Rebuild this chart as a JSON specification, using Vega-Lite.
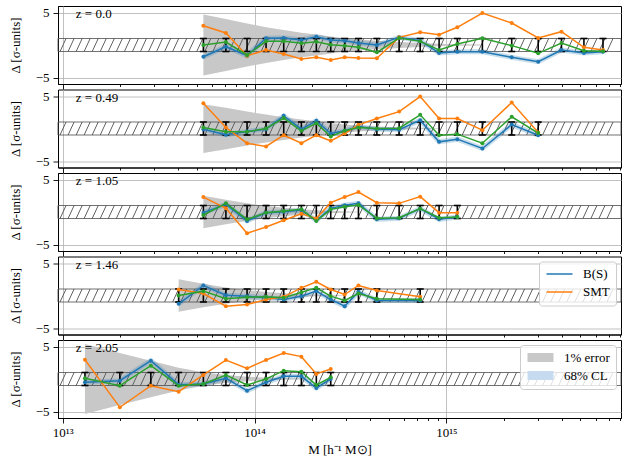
{
"$schema":"https://vega.github.io/schema/vega-lite/v6.json",
"background":"white",
"padding":{"left":8,"top":5,"right":9,"bottom":2},
"bounds":"flush",
"spacing":5.5,
"params":[{"name":"hatch","value":{"gradient":"linear","x1":0,"y1":0,"x2":1,"y2":0.0107,"stops":[
{"offset":0,"color":"#5a5a5a"},{"offset":0.0017,"color":"rgba(90,90,90,0)"},{"offset":0.0126,"color":"rgba(90,90,90,0)"},
{"offset":0.0143,"color":"#5a5a5a"},{"offset":0.016,"color":"rgba(90,90,90,0)"},{"offset":0.0269,"color":"rgba(90,90,90,0)"},
{"offset":0.0286,"color":"#5a5a5a"},{"offset":0.0303,"color":"rgba(90,90,90,0)"},{"offset":0.0412,"color":"rgba(90,90,90,0)"},
{"offset":0.0429,"color":"#5a5a5a"},{"offset":0.0446,"color":"rgba(90,90,90,0)"},{"offset":0.0554,"color":"rgba(90,90,90,0)"},
{"offset":0.0571,"color":"#5a5a5a"},{"offset":0.0588,"color":"rgba(90,90,90,0)"},{"offset":0.0697,"color":"rgba(90,90,90,0)"},
{"offset":0.0714,"color":"#5a5a5a"},{"offset":0.0731,"color":"rgba(90,90,90,0)"},{"offset":0.084,"color":"rgba(90,90,90,0)"},
{"offset":0.0857,"color":"#5a5a5a"},{"offset":0.0874,"color":"rgba(90,90,90,0)"},{"offset":0.0983,"color":"rgba(90,90,90,0)"},
{"offset":0.1,"color":"#5a5a5a"},{"offset":0.1017,"color":"rgba(90,90,90,0)"},{"offset":0.1126,"color":"rgba(90,90,90,0)"},
{"offset":0.1143,"color":"#5a5a5a"},{"offset":0.116,"color":"rgba(90,90,90,0)"},{"offset":0.1269,"color":"rgba(90,90,90,0)"},
{"offset":0.1286,"color":"#5a5a5a"},{"offset":0.1303,"color":"rgba(90,90,90,0)"},{"offset":0.1412,"color":"rgba(90,90,90,0)"},
{"offset":0.1429,"color":"#5a5a5a"},{"offset":0.1446,"color":"rgba(90,90,90,0)"},{"offset":0.1554,"color":"rgba(90,90,90,0)"},
{"offset":0.1571,"color":"#5a5a5a"},{"offset":0.1588,"color":"rgba(90,90,90,0)"},{"offset":0.1697,"color":"rgba(90,90,90,0)"},
{"offset":0.1714,"color":"#5a5a5a"},{"offset":0.1731,"color":"rgba(90,90,90,0)"},{"offset":0.184,"color":"rgba(90,90,90,0)"},
{"offset":0.1857,"color":"#5a5a5a"},{"offset":0.1874,"color":"rgba(90,90,90,0)"},{"offset":0.1983,"color":"rgba(90,90,90,0)"},
{"offset":0.2,"color":"#5a5a5a"},{"offset":0.2017,"color":"rgba(90,90,90,0)"},{"offset":0.2126,"color":"rgba(90,90,90,0)"},
{"offset":0.2143,"color":"#5a5a5a"},{"offset":0.216,"color":"rgba(90,90,90,0)"},{"offset":0.2269,"color":"rgba(90,90,90,0)"},
{"offset":0.2286,"color":"#5a5a5a"},{"offset":0.2303,"color":"rgba(90,90,90,0)"},{"offset":0.2412,"color":"rgba(90,90,90,0)"},
{"offset":0.2429,"color":"#5a5a5a"},{"offset":0.2446,"color":"rgba(90,90,90,0)"},{"offset":0.2554,"color":"rgba(90,90,90,0)"},
{"offset":0.2571,"color":"#5a5a5a"},{"offset":0.2588,"color":"rgba(90,90,90,0)"},{"offset":0.2697,"color":"rgba(90,90,90,0)"},
{"offset":0.2714,"color":"#5a5a5a"},{"offset":0.2731,"color":"rgba(90,90,90,0)"},{"offset":0.284,"color":"rgba(90,90,90,0)"},
{"offset":0.2857,"color":"#5a5a5a"},{"offset":0.2874,"color":"rgba(90,90,90,0)"},{"offset":0.2983,"color":"rgba(90,90,90,0)"},
{"offset":0.3,"color":"#5a5a5a"},{"offset":0.3017,"color":"rgba(90,90,90,0)"},{"offset":0.3126,"color":"rgba(90,90,90,0)"},
{"offset":0.3143,"color":"#5a5a5a"},{"offset":0.316,"color":"rgba(90,90,90,0)"},{"offset":0.3269,"color":"rgba(90,90,90,0)"},
{"offset":0.3286,"color":"#5a5a5a"},{"offset":0.3303,"color":"rgba(90,90,90,0)"},{"offset":0.3412,"color":"rgba(90,90,90,0)"},
{"offset":0.3429,"color":"#5a5a5a"},{"offset":0.3446,"color":"rgba(90,90,90,0)"},{"offset":0.3554,"color":"rgba(90,90,90,0)"},
{"offset":0.3571,"color":"#5a5a5a"},{"offset":0.3588,"color":"rgba(90,90,90,0)"},{"offset":0.3697,"color":"rgba(90,90,90,0)"},
{"offset":0.3714,"color":"#5a5a5a"},{"offset":0.3731,"color":"rgba(90,90,90,0)"},{"offset":0.384,"color":"rgba(90,90,90,0)"},
{"offset":0.3857,"color":"#5a5a5a"},{"offset":0.3874,"color":"rgba(90,90,90,0)"},{"offset":0.3983,"color":"rgba(90,90,90,0)"},
{"offset":0.4,"color":"#5a5a5a"},{"offset":0.4017,"color":"rgba(90,90,90,0)"},{"offset":0.4126,"color":"rgba(90,90,90,0)"},
{"offset":0.4143,"color":"#5a5a5a"},{"offset":0.416,"color":"rgba(90,90,90,0)"},{"offset":0.4269,"color":"rgba(90,90,90,0)"},
{"offset":0.4286,"color":"#5a5a5a"},{"offset":0.4303,"color":"rgba(90,90,90,0)"},{"offset":0.4412,"color":"rgba(90,90,90,0)"},
{"offset":0.4429,"color":"#5a5a5a"},{"offset":0.4446,"color":"rgba(90,90,90,0)"},{"offset":0.4554,"color":"rgba(90,90,90,0)"},
{"offset":0.4571,"color":"#5a5a5a"},{"offset":0.4588,"color":"rgba(90,90,90,0)"},{"offset":0.4697,"color":"rgba(90,90,90,0)"},
{"offset":0.4714,"color":"#5a5a5a"},{"offset":0.4731,"color":"rgba(90,90,90,0)"},{"offset":0.484,"color":"rgba(90,90,90,0)"},
{"offset":0.4857,"color":"#5a5a5a"},{"offset":0.4874,"color":"rgba(90,90,90,0)"},{"offset":0.4983,"color":"rgba(90,90,90,0)"},
{"offset":0.5,"color":"#5a5a5a"},{"offset":0.5017,"color":"rgba(90,90,90,0)"},{"offset":0.5126,"color":"rgba(90,90,90,0)"},
{"offset":0.5143,"color":"#5a5a5a"},{"offset":0.516,"color":"rgba(90,90,90,0)"},{"offset":0.5269,"color":"rgba(90,90,90,0)"},
{"offset":0.5286,"color":"#5a5a5a"},{"offset":0.5303,"color":"rgba(90,90,90,0)"},{"offset":0.5412,"color":"rgba(90,90,90,0)"},
{"offset":0.5429,"color":"#5a5a5a"},{"offset":0.5446,"color":"rgba(90,90,90,0)"},{"offset":0.5554,"color":"rgba(90,90,90,0)"},
{"offset":0.5571,"color":"#5a5a5a"},{"offset":0.5588,"color":"rgba(90,90,90,0)"},{"offset":0.5697,"color":"rgba(90,90,90,0)"},
{"offset":0.5714,"color":"#5a5a5a"},{"offset":0.5731,"color":"rgba(90,90,90,0)"},{"offset":0.584,"color":"rgba(90,90,90,0)"},
{"offset":0.5857,"color":"#5a5a5a"},{"offset":0.5874,"color":"rgba(90,90,90,0)"},{"offset":0.5983,"color":"rgba(90,90,90,0)"},
{"offset":0.6,"color":"#5a5a5a"},{"offset":0.6017,"color":"rgba(90,90,90,0)"},{"offset":0.6126,"color":"rgba(90,90,90,0)"},
{"offset":0.6143,"color":"#5a5a5a"},{"offset":0.616,"color":"rgba(90,90,90,0)"},{"offset":0.6269,"color":"rgba(90,90,90,0)"},
{"offset":0.6286,"color":"#5a5a5a"},{"offset":0.6303,"color":"rgba(90,90,90,0)"},{"offset":0.6412,"color":"rgba(90,90,90,0)"},
{"offset":0.6429,"color":"#5a5a5a"},{"offset":0.6446,"color":"rgba(90,90,90,0)"},{"offset":0.6554,"color":"rgba(90,90,90,0)"},
{"offset":0.6571,"color":"#5a5a5a"},{"offset":0.6588,"color":"rgba(90,90,90,0)"},{"offset":0.6697,"color":"rgba(90,90,90,0)"},
{"offset":0.6714,"color":"#5a5a5a"},{"offset":0.6731,"color":"rgba(90,90,90,0)"},{"offset":0.684,"color":"rgba(90,90,90,0)"},
{"offset":0.6857,"color":"#5a5a5a"},{"offset":0.6874,"color":"rgba(90,90,90,0)"},{"offset":0.6983,"color":"rgba(90,90,90,0)"},
{"offset":0.7,"color":"#5a5a5a"},{"offset":0.7017,"color":"rgba(90,90,90,0)"},{"offset":0.7126,"color":"rgba(90,90,90,0)"},
{"offset":0.7143,"color":"#5a5a5a"},{"offset":0.716,"color":"rgba(90,90,90,0)"},{"offset":0.7269,"color":"rgba(90,90,90,0)"},
{"offset":0.7286,"color":"#5a5a5a"},{"offset":0.7303,"color":"rgba(90,90,90,0)"},{"offset":0.7412,"color":"rgba(90,90,90,0)"},
{"offset":0.7429,"color":"#5a5a5a"},{"offset":0.7446,"color":"rgba(90,90,90,0)"},{"offset":0.7554,"color":"rgba(90,90,90,0)"},
{"offset":0.7571,"color":"#5a5a5a"},{"offset":0.7588,"color":"rgba(90,90,90,0)"},{"offset":0.7697,"color":"rgba(90,90,90,0)"},
{"offset":0.7714,"color":"#5a5a5a"},{"offset":0.7731,"color":"rgba(90,90,90,0)"},{"offset":0.784,"color":"rgba(90,90,90,0)"},
{"offset":0.7857,"color":"#5a5a5a"},{"offset":0.7874,"color":"rgba(90,90,90,0)"},{"offset":0.7983,"color":"rgba(90,90,90,0)"},
{"offset":0.8,"color":"#5a5a5a"},{"offset":0.8017,"color":"rgba(90,90,90,0)"},{"offset":0.8126,"color":"rgba(90,90,90,0)"},
{"offset":0.8143,"color":"#5a5a5a"},{"offset":0.816,"color":"rgba(90,90,90,0)"},{"offset":0.8269,"color":"rgba(90,90,90,0)"},
{"offset":0.8286,"color":"#5a5a5a"},{"offset":0.8303,"color":"rgba(90,90,90,0)"},{"offset":0.8412,"color":"rgba(90,90,90,0)"},
{"offset":0.8429,"color":"#5a5a5a"},{"offset":0.8446,"color":"rgba(90,90,90,0)"},{"offset":0.8554,"color":"rgba(90,90,90,0)"},
{"offset":0.8571,"color":"#5a5a5a"},{"offset":0.8588,"color":"rgba(90,90,90,0)"},{"offset":0.8697,"color":"rgba(90,90,90,0)"},
{"offset":0.8714,"color":"#5a5a5a"},{"offset":0.8731,"color":"rgba(90,90,90,0)"},{"offset":0.884,"color":"rgba(90,90,90,0)"},
{"offset":0.8857,"color":"#5a5a5a"},{"offset":0.8874,"color":"rgba(90,90,90,0)"},{"offset":0.8983,"color":"rgba(90,90,90,0)"},
{"offset":0.9,"color":"#5a5a5a"},{"offset":0.9017,"color":"rgba(90,90,90,0)"},{"offset":0.9126,"color":"rgba(90,90,90,0)"},
{"offset":0.9143,"color":"#5a5a5a"},{"offset":0.916,"color":"rgba(90,90,90,0)"},{"offset":0.9269,"color":"rgba(90,90,90,0)"},
{"offset":0.9286,"color":"#5a5a5a"},{"offset":0.9303,"color":"rgba(90,90,90,0)"},{"offset":0.9412,"color":"rgba(90,90,90,0)"},
{"offset":0.9429,"color":"#5a5a5a"},{"offset":0.9446,"color":"rgba(90,90,90,0)"},{"offset":0.9554,"color":"rgba(90,90,90,0)"},
{"offset":0.9571,"color":"#5a5a5a"},{"offset":0.9588,"color":"rgba(90,90,90,0)"},{"offset":0.9697,"color":"rgba(90,90,90,0)"},
{"offset":0.9714,"color":"#5a5a5a"},{"offset":0.9731,"color":"rgba(90,90,90,0)"},{"offset":0.984,"color":"rgba(90,90,90,0)"},
{"offset":0.9857,"color":"#5a5a5a"},{"offset":0.9874,"color":"rgba(90,90,90,0)"},{"offset":1,"color":"rgba(90,90,90,0)"}
]}}],
"config":{
 "font":"Liberation Serif",
 "view":{"stroke":"black","strokeWidth":1},
 "axis":{"tickColor":"black","domainColor":"black","domainWidth":1,"tickWidth":0.9,"gridColor":"#b0b0b0","gridWidth":0.8,"labelFontSize":13,"titleFontSize":13,"titleFontWeight":"normal","labelColor":"black","titleColor":"black","labelFont":"Liberation Serif","titleFont":"Liberation Serif"},
 "legend":{"labelFont":"Liberation Serif","labelColor":"black","labelFontSize":13}
},
"datasets":{
"pts":[
{"z":"0.0","M":5.41e13,"BS":-1.8,"SMT":2.97,"G":0},
{"z":"0.0","M":7.09e13,"BS":-0.26,"SMT":1.85,"G":0.46},
{"z":"0.0","M":9.14e13,"BS":-1.64,"SMT":-1.64,"G":-1.54},
{"z":"0.0","M":1.148e14,"BS":1.03,"SMT":-0.77,"G":0.56},
{"z":"0.0","M":1.419e14,"BS":1.08,"SMT":-1.38,"G":0.56},
{"z":"0.0","M":1.754e14,"BS":0.77,"SMT":-2.15,"G":0.26},
{"z":"0.0","M":2.099e14,"BS":1.28,"SMT":-1.9,"G":0.5},
{"z":"0.0","M":2.495e14,"BS":0.77,"SMT":-2.3,"G":0.05},
{"z":"0.0","M":2.95e14,"BS":0.67,"SMT":-1.9,"G":-0.1},
{"z":"0.0","M":3.48e14,"BS":0.3,"SMT":-2.0,"G":-0.36},
{"z":"0.0","M":4.34e14,"BS":0,"SMT":-2.05,"G":-1.13},
{"z":"0.0","M":5.67e14,"BS":1.18,"SMT":1.18,"G":1.08},
{"z":"0.0","M":7.3e14,"BS":0.67,"SMT":1.95,"G":0.56},
{"z":"0.0","M":9.16e14,"BS":-1.23,"SMT":1.59,"G":-0.77},
{"z":"0.0","M":1.14e15,"BS":-1.03,"SMT":2.72,"G":0.15},
{"z":"0.0","M":1.54e15,"BS":-1.03,"SMT":4.92,"G":1.03},
{"z":"0.0","M":2.19e15,"BS":-1.9,"SMT":3.38,"G":-0.1},
{"z":"0.0","M":3.01e15,"BS":-2.56,"SMT":1.08,"G":-1.28},
{"z":"0.0","M":3.98e15,"BS":-0.77,"SMT":2.05,"G":0.3},
{"z":"0.0","M":5.21e15,"BS":-1.23,"SMT":-0.36,"G":-0.87},
{"z":"0.0","M":6.55e15,"BS":-1.03,"SMT":-0.77,"G":-0.97},
{"z":"0.49","M":5.41e13,"BS":-0.1,"SMT":3.9,"G":0.15},
{"z":"0.49","M":7.09e13,"BS":-0.97,"SMT":0.15,"G":-0.5},
{"z":"0.49","M":9.14e13,"BS":-0.46,"SMT":-2.26,"G":-0.5},
{"z":"0.49","M":1.148e14,"BS":-0.1,"SMT":-2.77,"G":0},
{"z":"0.49","M":1.419e14,"BS":1.95,"SMT":-1.03,"G":1.6},
{"z":"0.49","M":1.754e14,"BS":-0.1,"SMT":-2.26,"G":-0.36},
{"z":"0.49","M":2.099e14,"BS":1.18,"SMT":-1.03,"G":0.82},
{"z":"0.49","M":2.495e14,"BS":-0.77,"SMT":-1.9,"G":-1.23},
{"z":"0.49","M":2.95e14,"BS":-0.36,"SMT":-0.77,"G":-0.36},
{"z":"0.49","M":3.48e14,"BS":0.3,"SMT":0.56,"G":0.15},
{"z":"0.49","M":4.34e14,"BS":-0.1,"SMT":1.54,"G":0},
{"z":"0.49","M":5.67e14,"BS":-0.2,"SMT":2.6,"G":0.05},
{"z":"0.49","M":7.3e14,"BS":1.28,"SMT":4.92,"G":2.1},
{"z":"0.49","M":9.16e14,"BS":-2.05,"SMT":1.54,"G":-1.03},
{"z":"0.49","M":1.14e15,"BS":-1.64,"SMT":1.54,"G":-0.87},
{"z":"0.49","M":1.54e15,"BS":-3.08,"SMT":-0.26,"G":-2.26},
{"z":"0.49","M":2.19e15,"BS":0.6,"SMT":4.0,"G":1.8},
{"z":"0.49","M":3.01e15,"BS":-1.03,"SMT":-0.62,"G":-0.7},
{"z":"1.05","M":5.41e13,"BS":-0.1,"SMT":2.3,"G":-0.46},
{"z":"1.05","M":7.09e13,"BS":1.18,"SMT":0.56,"G":1.33},
{"z":"1.05","M":9.14e13,"BS":-1.38,"SMT":-3.28,"G":-1.13},
{"z":"1.05","M":1.148e14,"BS":-0.1,"SMT":-2.3,"G":-0.1},
{"z":"1.05","M":1.419e14,"BS":0.05,"SMT":-1.28,"G":0.15},
{"z":"1.05","M":1.754e14,"BS":0.3,"SMT":-0.26,"G":0.41},
{"z":"1.05","M":2.099e14,"BS":-1.28,"SMT":-1.0,"G":-1.38},
{"z":"1.05","M":2.495e14,"BS":0.56,"SMT":1.44,"G":0.41},
{"z":"1.05","M":2.95e14,"BS":1.03,"SMT":2.3,"G":0.82},
{"z":"1.05","M":3.48e14,"BS":1.33,"SMT":3.08,"G":1.08},
{"z":"1.05","M":4.34e14,"BS":-1.13,"SMT":1.44,"G":-0.97},
{"z":"1.05","M":5.67e14,"BS":-0.97,"SMT":1.33,"G":-0.87},
{"z":"1.05","M":7.3e14,"BS":0.51,"SMT":2.36,"G":0.51},
{"z":"1.05","M":9.16e14,"BS":-1.13,"SMT":-0.1,"G":-0.87},
{"z":"1.05","M":1.14e15,"BS":-0.77,"SMT":-0.1,"G":-0.77},
{"z":"1.46","M":4.02e13,"BS":-1.28,"SMT":0.92,"G":0},
{"z":"1.46","M":5.41e13,"BS":1.54,"SMT":0.3,"G":0.67},
{"z":"1.46","M":7.09e13,"BS":0.05,"SMT":-1.64,"G":-0.51},
{"z":"1.46","M":9.14e13,"BS":-0.1,"SMT":-1.38,"G":-0.26},
{"z":"1.46","M":1.148e14,"BS":-0.36,"SMT":-0.62,"G":-0.2},
{"z":"1.46","M":1.419e14,"BS":-0.62,"SMT":-0.2,"G":-0.36},
{"z":"1.46","M":1.754e14,"BS":-0.1,"SMT":1.18,"G":0.51},
{"z":"1.46","M":2.099e14,"BS":0.67,"SMT":2.1,"G":1.18},
{"z":"1.46","M":2.495e14,"BS":-0.62,"SMT":0.92,"G":-0.1},
{"z":"1.46","M":2.95e14,"BS":-1.64,"SMT":0.15,"G":-0.77},
{"z":"1.46","M":3.48e14,"BS":0.56,"SMT":1.54,"G":0.3},
{"z":"1.46","M":4.34e14,"BS":-0.77,"SMT":0.77,"G":-0.51},
{"z":"1.46","M":7.3e14,"BS":-0.77,"SMT":-0.2,"G":-0.62},
{"z":"2.05","M":1.306e13,"BS":-0.51,"SMT":2.97,"G":0.1},
{"z":"2.05","M":1.985e13,"BS":-0.26,"SMT":-4.36,"G":-1.03},
{"z":"2.05","M":2.88e13,"BS":2.82,"SMT":-1.03,"G":2.05},
{"z":"2.05","M":4.02e13,"BS":-0.87,"SMT":-1.95,"G":-1.03},
{"z":"2.05","M":5.41e13,"BS":-0.77,"SMT":0.62,"G":-0.77},
{"z":"2.05","M":7.09e13,"BS":0.1,"SMT":2.92,"G":0.62},
{"z":"2.05","M":9.14e13,"BS":-1.8,"SMT":1.64,"G":-0.92},
{"z":"2.05","M":1.148e14,"BS":-0.51,"SMT":2.92,"G":0},
{"z":"2.05","M":1.419e14,"BS":0.41,"SMT":4.0,"G":1.28},
{"z":"2.05","M":1.754e14,"BS":0.41,"SMT":3.44,"G":1.13},
{"z":"2.05","M":2.099e14,"BS":-1.38,"SMT":0.77,"G":-0.92},
{"z":"2.05","M":2.495e14,"BS":0,"SMT":1.54,"G":0.26}
],
"fun":[
{"z":"0.0","M":5.41e13,"lo":-4.7,"hi":4.7},
{"z":"0.0","M":7.09e13,"lo":-4.0,"hi":4.0},
{"z":"0.0","M":9.14e13,"lo":-3.3,"hi":3.3},
{"z":"0.0","M":1.148e14,"lo":-2.75,"hi":2.75},
{"z":"0.0","M":1.419e14,"lo":-2.3,"hi":2.3},
{"z":"0.0","M":1.754e14,"lo":-1.9,"hi":1.9},
{"z":"0.0","M":2.099e14,"lo":-1.6,"hi":1.6},
{"z":"0.0","M":2.495e14,"lo":-1.3,"hi":1.3},
{"z":"0.0","M":2.95e14,"lo":-1.05,"hi":1.05},
{"z":"0.0","M":3.48e14,"lo":-0.85,"hi":0.85},
{"z":"0.0","M":4.34e14,"lo":-0.65,"hi":0.65},
{"z":"0.0","M":5.67e14,"lo":-0.45,"hi":0.45},
{"z":"0.0","M":7.3e14,"lo":-0.3,"hi":0.3},
{"z":"0.0","M":9.16e14,"lo":-0.2,"hi":0.2},
{"z":"0.0","M":1.14e15,"lo":-0.12,"hi":0.12},
{"z":"0.0","M":1.54e15,"lo":-0.06,"hi":0.06},
{"z":"0.49","M":5.41e13,"lo":-3.75,"hi":3.75},
{"z":"0.49","M":7.09e13,"lo":-3.2,"hi":3.2},
{"z":"0.49","M":9.14e13,"lo":-2.6,"hi":2.6},
{"z":"0.49","M":1.148e14,"lo":-2.15,"hi":2.15},
{"z":"0.49","M":1.419e14,"lo":-1.75,"hi":1.75},
{"z":"0.49","M":1.754e14,"lo":-1.4,"hi":1.4},
{"z":"0.49","M":2.099e14,"lo":-1.1,"hi":1.1},
{"z":"0.49","M":2.495e14,"lo":-0.85,"hi":0.85},
{"z":"0.49","M":2.95e14,"lo":-0.62,"hi":0.62},
{"z":"0.49","M":3.48e14,"lo":-0.45,"hi":0.45},
{"z":"0.49","M":4.34e14,"lo":-0.3,"hi":0.3},
{"z":"0.49","M":5.67e14,"lo":-0.18,"hi":0.18},
{"z":"0.49","M":7.3e14,"lo":-0.1,"hi":0.1},
{"z":"0.49","M":9.16e14,"lo":-0.05,"hi":0.05},
{"z":"1.05","M":5.41e13,"lo":-2.5,"hi":2.5},
{"z":"1.05","M":7.09e13,"lo":-1.9,"hi":1.9},
{"z":"1.05","M":9.14e13,"lo":-1.35,"hi":1.35},
{"z":"1.05","M":1.148e14,"lo":-0.95,"hi":0.95},
{"z":"1.05","M":1.419e14,"lo":-0.65,"hi":0.65},
{"z":"1.05","M":1.754e14,"lo":-0.42,"hi":0.42},
{"z":"1.05","M":2.099e14,"lo":-0.27,"hi":0.27},
{"z":"1.05","M":2.495e14,"lo":-0.16,"hi":0.16},
{"z":"1.05","M":2.95e14,"lo":-0.1,"hi":0.1},
{"z":"1.05","M":3.48e14,"lo":-0.05,"hi":0.05},
{"z":"1.46","M":4.02e13,"lo":-2.5,"hi":2.5},
{"z":"1.46","M":5.41e13,"lo":-1.8,"hi":1.8},
{"z":"1.46","M":7.09e13,"lo":-1.25,"hi":1.25},
{"z":"1.46","M":9.14e13,"lo":-0.85,"hi":0.85},
{"z":"1.46","M":1.148e14,"lo":-0.55,"hi":0.55},
{"z":"1.46","M":1.419e14,"lo":-0.35,"hi":0.35},
{"z":"1.46","M":1.754e14,"lo":-0.22,"hi":0.22},
{"z":"1.46","M":2.099e14,"lo":-0.13,"hi":0.13},
{"z":"1.46","M":2.495e14,"lo":-0.08,"hi":0.08},
{"z":"1.46","M":2.95e14,"lo":-0.04,"hi":0.04},
{"z":"2.05","M":1.306e13,"lo":-5.4,"hi":5.4},
{"z":"2.05","M":1.985e13,"lo":-4.0,"hi":4.0},
{"z":"2.05","M":2.88e13,"lo":-2.8,"hi":2.8},
{"z":"2.05","M":4.02e13,"lo":-1.75,"hi":1.75},
{"z":"2.05","M":5.41e13,"lo":-1.05,"hi":1.05},
{"z":"2.05","M":7.09e13,"lo":-0.62,"hi":0.62},
{"z":"2.05","M":9.14e13,"lo":-0.36,"hi":0.36},
{"z":"2.05","M":1.148e14,"lo":-0.21,"hi":0.21},
{"z":"2.05","M":1.419e14,"lo":-0.12,"hi":0.12},
{"z":"2.05","M":1.754e14,"lo":-0.07,"hi":0.07},
{"z":"2.05","M":2.099e14,"lo":-0.04,"hi":0.04}
]
},
"resolve":{"scale":{"x":"independent","y":"independent","color":"independent","fill":"independent"},"legend":{"color":"independent","fill":"independent"}},
"vconcat":[
{"width":563,"height":78,"layer":[
 {"data":{"name":"fun"},"transform":[{"filter":"datum.z == '0.0'"}],"mark":{"type":"area","opacity":1},
  "encoding":{"x":{"field":"M","type":"quantitative","scale":{"type":"log","domain":[9.45e12,8.13e15],"nice":false},
   "axis":{"values":[1e13,2e13,3e13,4e13,5e13,6e13,7e13,8e13,9e13,1e14,2e14,3e14,4e14,5e14,6e14,7e14,8e14,9e14,1e15,2e15,3e15,4e15,5e15,6e15,7e15,8e15],"labels":false,"title":null,"grid":true,"gridOpacity":{"condition":{"test":"datum.value == 1e13 || datum.value == 1e14 || datum.value == 1e15","value":1},"value":0},"tickSize":{"condition":{"test":"datum.value == 1e13 || datum.value == 1e14 || datum.value == 1e15","value":5},"value":2.5}}},
   "y":{"field":"lo","type":"quantitative","scale":{"domain":[-6,6],"nice":false},"axis":{"values":[-5,0,5],"title":"Δ [σ-units]","grid":true,"tickSize":5,"labelPadding":4,"titlePadding":13}},
   "y2":{"field":"hi"},
   "fill":{"datum":"1% error","type":"nominal","scale":{"domain":["1% error","68% CL"],"range":["#c8c8c8","#c6dbef"]},"legend":null}}},
 {"data":{"values":[{}]},"mark":{"type":"rect","fill":{"expr":"hatch"},"stroke":"#4d4d4d","strokeWidth":0.8},"encoding":{"x":{"datum":9.45e12},"x2":{"datum":8.13e15},"y":{"datum":-1},"y2":{"datum":1}}},
 {"data":{"name":"pts"},"transform":[{"filter":"datum.z == '0.0'"}],"mark":{"type":"line","color":"#1f77b4","opacity":0.25,"strokeWidth":5},"encoding":{"x":{"field":"M","type":"quantitative"},"y":{"field":"BS","type":"quantitative"}}},
 {"data":{"name":"pts"},"transform":[{"filter":"datum.z == '0.0'"}],"mark":{"type":"rule","color":"black","strokeWidth":1.6},"encoding":{"x":{"field":"M","type":"quantitative"},"y":{"datum":-1},"y2":{"datum":1}}},
 {"data":{"name":"pts"},"transform":[{"filter":"datum.z == '0.0'"}],"mark":{"type":"tick","orient":"horizontal","color":"black","size":7,"thickness":1.6,"opacity":1},"encoding":{"x":{"field":"M","type":"quantitative"},"y":{"datum":-1}}},
 {"data":{"name":"pts"},"transform":[{"filter":"datum.z == '0.0'"}],"mark":{"type":"tick","orient":"horizontal","color":"black","size":7,"thickness":1.6,"opacity":1},"encoding":{"x":{"field":"M","type":"quantitative"},"y":{"datum":1}}},
 {"data":{"name":"pts"},"transform":[{"filter":"datum.z == '0.0'"},{"fold":["BS","SMT","G"],"as":["model","v"]}],"mark":{"type":"line","strokeWidth":1.5,"point":{"filled":true,"size":16,"opacity":1}},
  "encoding":{"x":{"field":"M","type":"quantitative"},"y":{"field":"v","type":"quantitative"},"color":{"field":"model","type":"nominal","scale":{"domain":["BS","SMT","G"],"range":["#1f77b4","#ff7f0e","#2ca02c"]},"legend":null}}},
 {"data":{"values":[{}]},"mark":{"type":"text","align":"left","baseline":"middle","fontSize":13,"font":"Liberation Serif","color":"black"},"encoding":{"x":{"datum":1.17e13},"y":{"datum":4.7},"text":{"value":"z = 0.0"}}}
]},
{"width":563,"height":78,"layer":[
 {"data":{"name":"fun"},"transform":[{"filter":"datum.z == '0.49'"}],"mark":{"type":"area","opacity":1},
  "encoding":{"x":{"field":"M","type":"quantitative","scale":{"type":"log","domain":[9.45e12,8.13e15],"nice":false},
   "axis":{"values":[1e13,2e13,3e13,4e13,5e13,6e13,7e13,8e13,9e13,1e14,2e14,3e14,4e14,5e14,6e14,7e14,8e14,9e14,1e15,2e15,3e15,4e15,5e15,6e15,7e15,8e15],"labels":false,"title":null,"grid":true,"gridOpacity":{"condition":{"test":"datum.value == 1e13 || datum.value == 1e14 || datum.value == 1e15","value":1},"value":0},"tickSize":{"condition":{"test":"datum.value == 1e13 || datum.value == 1e14 || datum.value == 1e15","value":5},"value":2.5}}},
   "y":{"field":"lo","type":"quantitative","scale":{"domain":[-6,6],"nice":false},"axis":{"values":[-5,0,5],"title":"Δ [σ-units]","grid":true,"tickSize":5,"labelPadding":4,"titlePadding":13}},
   "y2":{"field":"hi"},
   "fill":{"datum":"1% error","type":"nominal","scale":{"domain":["1% error","68% CL"],"range":["#c8c8c8","#c6dbef"]},"legend":null}}},
 {"data":{"values":[{}]},"mark":{"type":"rect","fill":{"expr":"hatch"},"stroke":"#4d4d4d","strokeWidth":0.8},"encoding":{"x":{"datum":9.45e12},"x2":{"datum":8.13e15},"y":{"datum":-1},"y2":{"datum":1}}},
 {"data":{"name":"pts"},"transform":[{"filter":"datum.z == '0.49'"}],"mark":{"type":"line","color":"#1f77b4","opacity":0.25,"strokeWidth":5},"encoding":{"x":{"field":"M","type":"quantitative"},"y":{"field":"BS","type":"quantitative"}}},
 {"data":{"name":"pts"},"transform":[{"filter":"datum.z == '0.49'"}],"mark":{"type":"rule","color":"black","strokeWidth":1.6},"encoding":{"x":{"field":"M","type":"quantitative"},"y":{"datum":-1},"y2":{"datum":1}}},
 {"data":{"name":"pts"},"transform":[{"filter":"datum.z == '0.49'"}],"mark":{"type":"tick","orient":"horizontal","color":"black","size":7,"thickness":1.6,"opacity":1},"encoding":{"x":{"field":"M","type":"quantitative"},"y":{"datum":-1}}},
 {"data":{"name":"pts"},"transform":[{"filter":"datum.z == '0.49'"}],"mark":{"type":"tick","orient":"horizontal","color":"black","size":7,"thickness":1.6,"opacity":1},"encoding":{"x":{"field":"M","type":"quantitative"},"y":{"datum":1}}},
 {"data":{"name":"pts"},"transform":[{"filter":"datum.z == '0.49'"},{"fold":["BS","SMT","G"],"as":["model","v"]}],"mark":{"type":"line","strokeWidth":1.5,"point":{"filled":true,"size":16,"opacity":1}},
  "encoding":{"x":{"field":"M","type":"quantitative"},"y":{"field":"v","type":"quantitative"},"color":{"field":"model","type":"nominal","scale":{"domain":["BS","SMT","G"],"range":["#1f77b4","#ff7f0e","#2ca02c"]},"legend":null}}},
 {"data":{"values":[{}]},"mark":{"type":"text","align":"left","baseline":"middle","fontSize":13,"font":"Liberation Serif","color":"black"},"encoding":{"x":{"datum":1.17e13},"y":{"datum":4.7},"text":{"value":"z = 0.49"}}}
]},
{"width":563,"height":78,"layer":[
 {"data":{"name":"fun"},"transform":[{"filter":"datum.z == '1.05'"}],"mark":{"type":"area","opacity":1},
  "encoding":{"x":{"field":"M","type":"quantitative","scale":{"type":"log","domain":[9.45e12,8.13e15],"nice":false},
   "axis":{"values":[1e13,2e13,3e13,4e13,5e13,6e13,7e13,8e13,9e13,1e14,2e14,3e14,4e14,5e14,6e14,7e14,8e14,9e14,1e15,2e15,3e15,4e15,5e15,6e15,7e15,8e15],"labels":false,"title":null,"grid":true,"gridOpacity":{"condition":{"test":"datum.value == 1e13 || datum.value == 1e14 || datum.value == 1e15","value":1},"value":0},"tickSize":{"condition":{"test":"datum.value == 1e13 || datum.value == 1e14 || datum.value == 1e15","value":5},"value":2.5}}},
   "y":{"field":"lo","type":"quantitative","scale":{"domain":[-6,6],"nice":false},"axis":{"values":[-5,0,5],"title":"Δ [σ-units]","grid":true,"tickSize":5,"labelPadding":4,"titlePadding":13}},
   "y2":{"field":"hi"},
   "fill":{"datum":"1% error","type":"nominal","scale":{"domain":["1% error","68% CL"],"range":["#c8c8c8","#c6dbef"]},"legend":null}}},
 {"data":{"values":[{}]},"mark":{"type":"rect","fill":{"expr":"hatch"},"stroke":"#4d4d4d","strokeWidth":0.8},"encoding":{"x":{"datum":9.45e12},"x2":{"datum":8.13e15},"y":{"datum":-1},"y2":{"datum":1}}},
 {"data":{"name":"pts"},"transform":[{"filter":"datum.z == '1.05'"}],"mark":{"type":"line","color":"#1f77b4","opacity":0.25,"strokeWidth":5},"encoding":{"x":{"field":"M","type":"quantitative"},"y":{"field":"BS","type":"quantitative"}}},
 {"data":{"name":"pts"},"transform":[{"filter":"datum.z == '1.05'"}],"mark":{"type":"rule","color":"black","strokeWidth":1.6},"encoding":{"x":{"field":"M","type":"quantitative"},"y":{"datum":-1},"y2":{"datum":1}}},
 {"data":{"name":"pts"},"transform":[{"filter":"datum.z == '1.05'"}],"mark":{"type":"tick","orient":"horizontal","color":"black","size":7,"thickness":1.6,"opacity":1},"encoding":{"x":{"field":"M","type":"quantitative"},"y":{"datum":-1}}},
 {"data":{"name":"pts"},"transform":[{"filter":"datum.z == '1.05'"}],"mark":{"type":"tick","orient":"horizontal","color":"black","size":7,"thickness":1.6,"opacity":1},"encoding":{"x":{"field":"M","type":"quantitative"},"y":{"datum":1}}},
 {"data":{"name":"pts"},"transform":[{"filter":"datum.z == '1.05'"},{"fold":["BS","SMT","G"],"as":["model","v"]}],"mark":{"type":"line","strokeWidth":1.5,"point":{"filled":true,"size":16,"opacity":1}},
  "encoding":{"x":{"field":"M","type":"quantitative"},"y":{"field":"v","type":"quantitative"},"color":{"field":"model","type":"nominal","scale":{"domain":["BS","SMT","G"],"range":["#1f77b4","#ff7f0e","#2ca02c"]},"legend":null}}},
 {"data":{"values":[{}]},"mark":{"type":"text","align":"left","baseline":"middle","fontSize":13,"font":"Liberation Serif","color":"black"},"encoding":{"x":{"datum":1.17e13},"y":{"datum":4.7},"text":{"value":"z = 1.05"}}}
]},
{"width":563,"height":78,"layer":[
 {"data":{"name":"fun"},"transform":[{"filter":"datum.z == '1.46'"}],"mark":{"type":"area","opacity":1},
  "encoding":{"x":{"field":"M","type":"quantitative","scale":{"type":"log","domain":[9.45e12,8.13e15],"nice":false},
   "axis":{"values":[1e13,2e13,3e13,4e13,5e13,6e13,7e13,8e13,9e13,1e14,2e14,3e14,4e14,5e14,6e14,7e14,8e14,9e14,1e15,2e15,3e15,4e15,5e15,6e15,7e15,8e15],"labels":false,"title":null,"grid":true,"gridOpacity":{"condition":{"test":"datum.value == 1e13 || datum.value == 1e14 || datum.value == 1e15","value":1},"value":0},"tickSize":{"condition":{"test":"datum.value == 1e13 || datum.value == 1e14 || datum.value == 1e15","value":5},"value":2.5}}},
   "y":{"field":"lo","type":"quantitative","scale":{"domain":[-6,6],"nice":false},"axis":{"values":[-5,0,5],"title":"Δ [σ-units]","grid":true,"tickSize":5,"labelPadding":4,"titlePadding":13}},
   "y2":{"field":"hi"},
   "fill":{"datum":"1% error","type":"nominal","scale":{"domain":["1% error","68% CL"],"range":["#c8c8c8","#c6dbef"]},"legend":null}}},
 {"data":{"values":[{}]},"mark":{"type":"rect","fill":{"expr":"hatch"},"stroke":"#4d4d4d","strokeWidth":0.8},"encoding":{"x":{"datum":9.45e12},"x2":{"datum":8.13e15},"y":{"datum":-1},"y2":{"datum":1}}},
 {"data":{"name":"pts"},"transform":[{"filter":"datum.z == '1.46'"}],"mark":{"type":"line","color":"#1f77b4","opacity":0.25,"strokeWidth":5},"encoding":{"x":{"field":"M","type":"quantitative"},"y":{"field":"BS","type":"quantitative"}}},
 {"data":{"name":"pts"},"transform":[{"filter":"datum.z == '1.46'"}],"mark":{"type":"rule","color":"black","strokeWidth":1.6},"encoding":{"x":{"field":"M","type":"quantitative"},"y":{"datum":-1},"y2":{"datum":1}}},
 {"data":{"name":"pts"},"transform":[{"filter":"datum.z == '1.46'"}],"mark":{"type":"tick","orient":"horizontal","color":"black","size":7,"thickness":1.6,"opacity":1},"encoding":{"x":{"field":"M","type":"quantitative"},"y":{"datum":-1}}},
 {"data":{"name":"pts"},"transform":[{"filter":"datum.z == '1.46'"}],"mark":{"type":"tick","orient":"horizontal","color":"black","size":7,"thickness":1.6,"opacity":1},"encoding":{"x":{"field":"M","type":"quantitative"},"y":{"datum":1}}},
 {"data":{"name":"pts"},"transform":[{"filter":"datum.z == '1.46'"},{"fold":["BS","SMT","G"],"as":["model","v"]}],"mark":{"type":"line","strokeWidth":1.5,"point":{"filled":true,"size":16,"opacity":1}},
  "encoding":{"x":{"field":"M","type":"quantitative"},"y":{"field":"v","type":"quantitative"},"color":{"field":"model","type":"nominal","scale":{"domain":["BS","SMT","G"],"range":["#1f77b4","#ff7f0e","#2ca02c"]},
   "legend":{"values":["BS","SMT"],"labelExpr":"datum.label == 'BS' ? 'B(S)' : datum.label","title":null,"orient":"top-right","offset":5,"symbolType":"M-1,0H4.2","symbolSize":100,"symbolStrokeWidth":1.5,"fillColor":"rgba(255,255,255,0.8)","strokeColor":"#cccccc","padding":6,"cornerRadius":3,"labelFontSize":13,"labelOffset":25,"rowPadding":4}}}},
 {"data":{"values":[{}]},"mark":{"type":"text","align":"left","baseline":"middle","fontSize":13,"font":"Liberation Serif","color":"black"},"encoding":{"x":{"datum":1.17e13},"y":{"datum":4.7},"text":{"value":"z = 1.46"}}}
]},
{"width":563,"height":78,"layer":[
 {"data":{"name":"fun"},"transform":[{"filter":"datum.z == '2.05'"}],"mark":{"type":"area","opacity":1},
  "encoding":{"x":{"field":"M","type":"quantitative","scale":{"type":"log","domain":[9.45e12,8.13e15],"nice":false},
   "axis":{"values":[1e13,2e13,3e13,4e13,5e13,6e13,7e13,8e13,9e13,1e14,2e14,3e14,4e14,5e14,6e14,7e14,8e14,9e14,1e15,2e15,3e15,4e15,5e15,6e15,7e15,8e15],"labelExpr":"datum.value == 1e13 ? '10¹³' : datum.value == 1e14 ? '10¹⁴' : datum.value == 1e15 ? '10¹⁵' : ''","labelOverlap":false,"labelFlush":false,"labelPadding":3,"title":"M [h⁻¹ M⊙]","titlePadding":4,"grid":true,"gridOpacity":{"condition":{"test":"datum.value == 1e13 || datum.value == 1e14 || datum.value == 1e15","value":1},"value":0},"tickSize":{"condition":{"test":"datum.value == 1e13 || datum.value == 1e14 || datum.value == 1e15","value":5},"value":2.5}}},
   "y":{"field":"lo","type":"quantitative","scale":{"domain":[-6,6],"nice":false},"axis":{"values":[-5,0,5],"title":"Δ [σ-units]","grid":true,"tickSize":5,"labelPadding":4,"titlePadding":13}},
   "y2":{"field":"hi"},
   "fill":{"datum":"1% error","type":"nominal","scale":{"domain":["1% error","68% CL"],"range":["#c8c8c8","#c6dbef"]},
    "legend":{"title":null,"orient":"top-right","offset":5,"symbolType":"M-1,-0.9H4.2V0.9H-1Z","symbolSize":100,"symbolStrokeWidth":0,"symbolOpacity":1,"fillColor":"rgba(255,255,255,0.8)","strokeColor":"#cccccc","padding":6,"cornerRadius":3,"labelFontSize":13,"labelOffset":25,"rowPadding":4}}}},
 {"data":{"values":[{}]},"mark":{"type":"rect","fill":{"expr":"hatch"},"stroke":"#4d4d4d","strokeWidth":0.8},"encoding":{"x":{"datum":9.45e12},"x2":{"datum":8.13e15},"y":{"datum":-1},"y2":{"datum":1}}},
 {"data":{"name":"pts"},"transform":[{"filter":"datum.z == '2.05'"}],"mark":{"type":"line","color":"#1f77b4","opacity":0.25,"strokeWidth":5},"encoding":{"x":{"field":"M","type":"quantitative"},"y":{"field":"BS","type":"quantitative"}}},
 {"data":{"name":"pts"},"transform":[{"filter":"datum.z == '2.05'"}],"mark":{"type":"rule","color":"black","strokeWidth":1.6},"encoding":{"x":{"field":"M","type":"quantitative"},"y":{"datum":-1},"y2":{"datum":1}}},
 {"data":{"name":"pts"},"transform":[{"filter":"datum.z == '2.05'"}],"mark":{"type":"tick","orient":"horizontal","color":"black","size":7,"thickness":1.6,"opacity":1},"encoding":{"x":{"field":"M","type":"quantitative"},"y":{"datum":-1}}},
 {"data":{"name":"pts"},"transform":[{"filter":"datum.z == '2.05'"}],"mark":{"type":"tick","orient":"horizontal","color":"black","size":7,"thickness":1.6,"opacity":1},"encoding":{"x":{"field":"M","type":"quantitative"},"y":{"datum":1}}},
 {"data":{"name":"pts"},"transform":[{"filter":"datum.z == '2.05'"},{"fold":["BS","SMT","G"],"as":["model","v"]}],"mark":{"type":"line","strokeWidth":1.5,"point":{"filled":true,"size":16,"opacity":1}},
  "encoding":{"x":{"field":"M","type":"quantitative"},"y":{"field":"v","type":"quantitative"},"color":{"field":"model","type":"nominal","scale":{"domain":["BS","SMT","G"],"range":["#1f77b4","#ff7f0e","#2ca02c"]},"legend":null}}},
 {"data":{"values":[{}]},"mark":{"type":"text","align":"left","baseline":"middle","fontSize":13,"font":"Liberation Serif","color":"black"},"encoding":{"x":{"datum":1.17e13},"y":{"datum":4.7},"text":{"value":"z = 2.05"}}}
]}
]
}
